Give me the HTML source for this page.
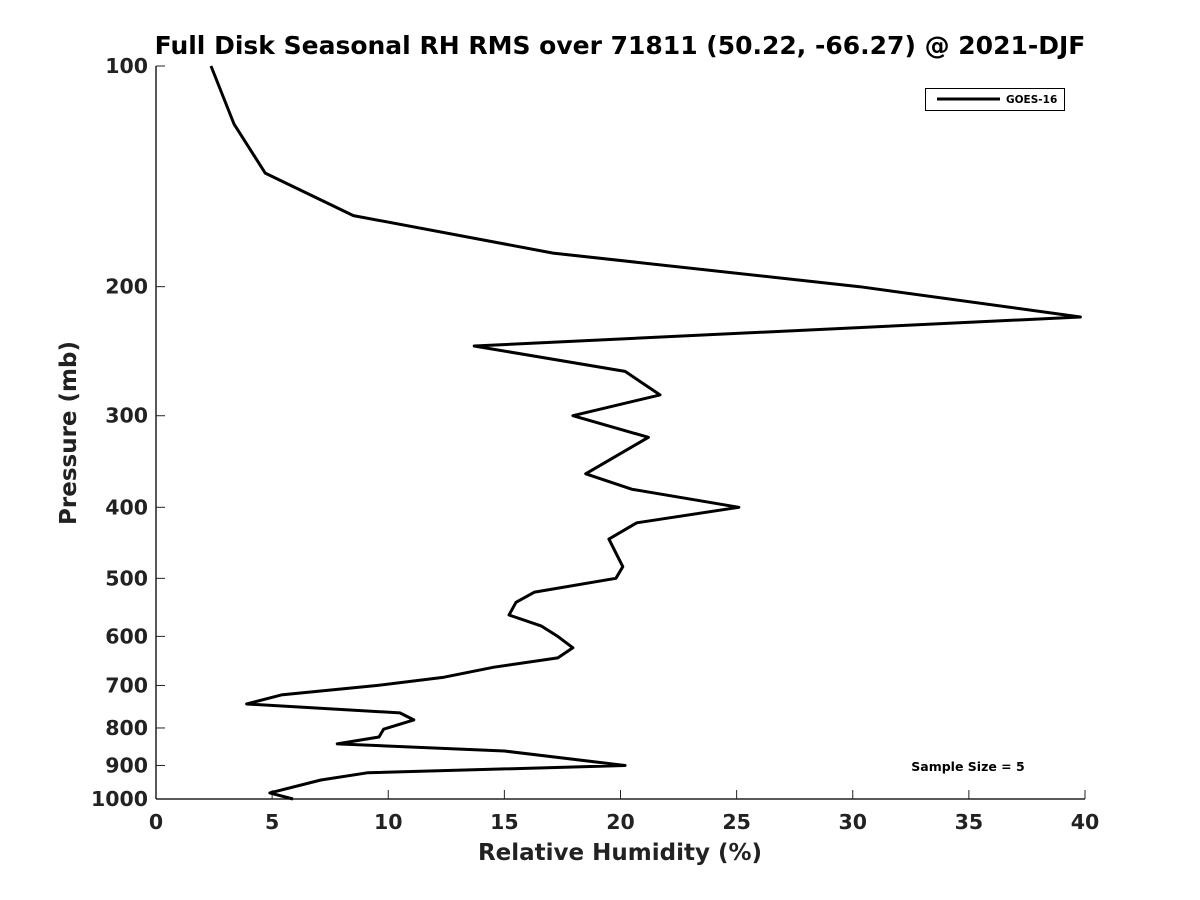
<!DOCTYPE html>
<html><head><meta charset="utf-8"><style>
body{margin:0;background:#fff;}
svg{display:block;font-family:"DejaVu Sans","Liberation Sans",sans-serif;}
</style></head><body>
<svg id="chart" width="1200" height="900">
<text x="620" y="54" text-anchor="middle" font-size="25" font-weight="bold" fill="#000">Full Disk Seasonal RH RMS over 71811 (50.22, -66.27) @ 2021-DJF</text>
<g id="axes"></g>
<path id="line" fill="none" stroke="#000" stroke-width="3" stroke-linejoin="round"/>
<g>
<rect x="925.5" y="88.5" width="139" height="22" fill="#fff" stroke="#000" stroke-width="1"/>
<line x1="937" y1="99" x2="1000" y2="99" stroke="#000" stroke-width="3"/>
<text x="1006" y="103" font-size="10.5" font-weight="bold">GOES-16</text>
</g>
<text x="968" y="771" text-anchor="middle" font-size="12.5" font-weight="bold">Sample Size = 5</text>
<text x="620" y="860" text-anchor="middle" font-size="23" font-weight="bold" fill="#222">Relative Humidity (%)</text>
<text transform="translate(76,433) rotate(-90)" text-anchor="middle" font-size="23" font-weight="bold" fill="#222">Pressure (mb)</text>
</svg>
<script>
const xTicks=[0,5,10,15,20,25,30,35,40];
const yTicks=[100,200,300,400,500,600,700,800,900,1000];
const rh=[2.37,3.36,4.7,8.5,17.1,30.3,39.8,13.7,20.2,21.7,17.95,21.2,18.5,20.5,25.1,20.7,19.5,20.1,19.8,16.3,15.5,15.2,16.6,17.3,17.95,17.3,14.55,12.4,9.5,5.4,3.9,10.5,11.1,9.8,9.6,7.8,15.0,20.2,9.1,7.1,4.9,5.9];
const pres=[100,120,140,160,180,200,220,241,261,281,300,321,360,378,400,420,442,482,500,522,539,561,581,600,622,642,661,682,700,721,742,763,780,803,823,841,860,900,921,942,981,1000];
const L=156,R=1085,T=66,B=799;
const xs=v=>L+(v-0)/(40-0)*(R-L);
const ys=p=>T+Math.log10(p/100)/Math.log10(10)*(B-T);
const ns="http://www.w3.org/2000/svg";
const ax=document.getElementById('axes');
function mk(tag,attrs,txt){const e=document.createElementNS(ns,tag);for(const k in attrs)e.setAttribute(k,attrs[k]);if(txt!==undefined)e.textContent=txt;ax.appendChild(e);return e;}
const xl=mk('line',{x1:L,y1:B,x2:R,y2:B,stroke:'#222','stroke-width':1.5});


const yl=mk('line',{x1:L,y1:T,x2:L,y2:B,stroke:'#222','stroke-width':1.5});


xTicks.forEach(v=>{const x=xs(v);
 mk('line',{x1:x,y1:B,x2:x,y2:B-9,stroke:'#222'});
 const t=mk('text',{x:x,y:B+30,'text-anchor':'middle','font-size':20.5,'font-weight':'bold',fill:'#222'},String(v));
 
 
});
yTicks.forEach(p=>{const y=ys(p);
 mk('line',{x1:L,y1:y,x2:L+9,y2:y,stroke:'#222'});
 const t=mk('text',{x:L-8,y:y+7,'text-anchor':'end','font-size':20.5,'font-weight':'bold',fill:'#222'},String(p));
 
 
});
document.getElementById('line').setAttribute('d',rh.map((v,i)=>(i?'L':'M')+xs(v).toFixed(1)+','+ys(pres[i]).toFixed(1)).join(''));
</script>
</body></html>
